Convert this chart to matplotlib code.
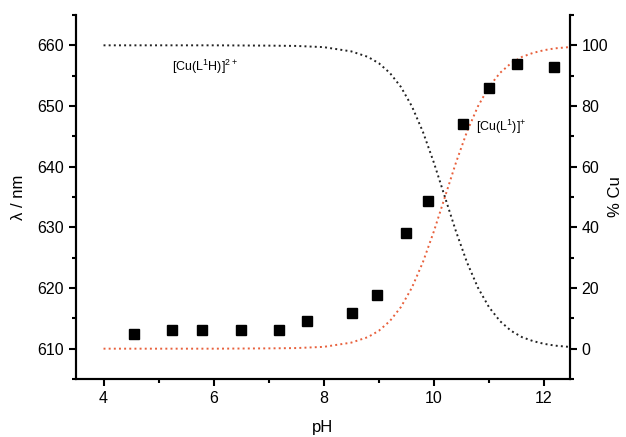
import matplotlib
matplotlib.use('Agg')
import matplotlib.pyplot as plt
from matplotlib.ticker import MultipleLocator

plt.rcParams['font.family'] = ['Liberation Sans', 'DejaVu Sans']
plt.rcParams['mathtext.fontset'] = 'custom'
plt.rcParams['mathtext.rm'] = 'Liberation Sans'

# measured absorption maxima
ph_data = [4.56, 5.25, 5.78, 6.49, 7.18, 7.69, 8.51, 8.96, 9.49, 9.89, 10.53, 11.0, 11.51, 12.18]
lambda_nm = [612.4, 613.0, 613.0, 613.0, 613.0, 614.5, 615.9, 618.9, 629.0, 634.4, 647.0, 652.9, 657.0, 656.4]

# species distribution curves (% Cu)
ph_curve = [4.0, 6.0, 7.0, 7.5, 8.0, 8.5, 8.8, 9.0, 9.2, 9.4, 9.6, 9.8, 10.0, 10.2,
            10.4, 10.6, 10.8, 11.0, 11.2, 11.4, 11.6, 11.8, 12.0, 12.2, 12.45]
pct_LH = [100, 100, 99.9, 99.8, 99.4, 98.0, 96.2, 94.1, 90.9, 86.3, 79.9, 71.5, 61.3, 50.0,
          38.7, 28.5, 20.1, 13.7, 9.1, 5.9, 3.8, 2.5, 1.6, 1.0, 0.6]
pct_L = [0, 0, 0.1, 0.2, 0.6, 2.0, 3.8, 5.9, 9.1, 13.7, 20.1, 28.5, 38.7, 50.0,
         61.3, 71.5, 79.9, 86.3, 90.9, 94.1, 96.2, 97.5, 98.4, 99.0, 99.4]

fig = plt.figure(figsize=(6.26, 4.37), dpi=100)
ax = fig.add_axes([0.1214, 0.1327, 0.789, 0.833])
ax2 = ax.twinx()

ax2.plot(ph_curve, pct_LH, linestyle=':', color='#222222', linewidth=1.4)
ax2.plot(ph_curve, pct_L, linestyle=':', color='#e8603c', linewidth=1.4)
ax.plot(ph_data, lambda_nm, 's', color='black', markersize=6.5, zorder=5)
ax.set_zorder(ax2.get_zorder() + 1)
ax.patch.set_visible(False)

ax.set_xlim(3.5, 12.47)
ax.set_ylim(605, 665)
ax2.set_ylim(-10, 110)

ax.xaxis.set_major_locator(MultipleLocator(2))
ax.xaxis.set_minor_locator(MultipleLocator(1))
ax.yaxis.set_major_locator(MultipleLocator(10))
ax.yaxis.set_minor_locator(MultipleLocator(5))
ax2.yaxis.set_major_locator(MultipleLocator(20))
ax2.yaxis.set_minor_locator(MultipleLocator(10))

for a in (ax, ax2):
    a.spines['top'].set_visible(False)
    for s in a.spines.values():
        s.set_linewidth(1.5)
    a.tick_params(which='major', length=5, width=1.5, labelsize=11.5)
    a.tick_params(which='minor', length=3, width=1.5)

ax.set_xlabel('pH', fontsize=12, labelpad=10)
ax.set_ylabel('λ / nm', fontsize=12, labelpad=8)
ax2.set_ylabel('% Cu', fontsize=12, rotation=90)
ax2.yaxis.set_label_coords(1.078, 0.5)

ax.text(5.85, 656.4, '[Cu(L$^1$H)]$^{2+}$', fontsize=9, ha='center', va='center')
ax.text(10.76, 646.5, '[Cu(L$^1$)]$^{+}$', fontsize=9, ha='left', va='center')

fig.savefig('out.png', dpi=100)
